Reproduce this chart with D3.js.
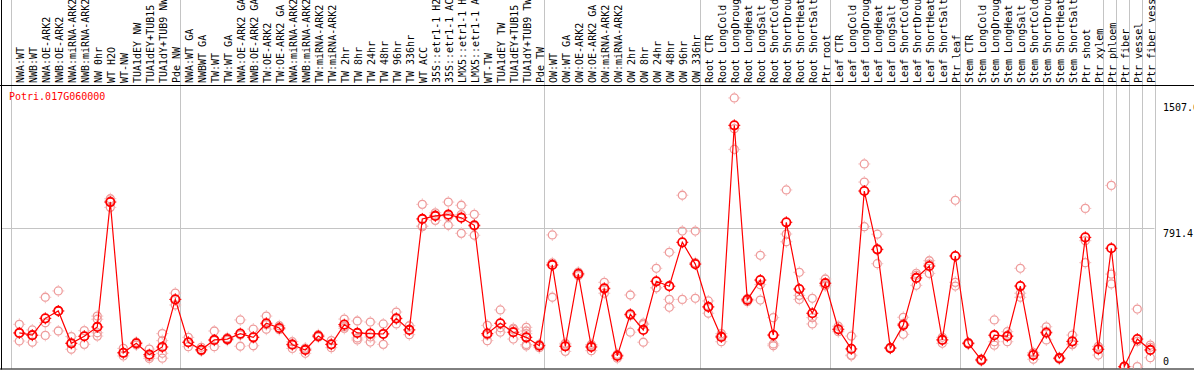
<!DOCTYPE html>
<html>
<head>
<meta charset="utf-8">
<script src="https://cdn.jsdelivr.net/npm/d3@7"></script>
<style>
  body { margin: 0; background: #fff; }
  svg { display: block; }
  text { font-family: "DejaVu Sans Mono", monospace; font-size: 10px; }
</style>
</head>
<body>
<div id="chart"></div>
<script>
const gene = 'Potri.017G060000';

const categories = [
  'NWA:WT', 'NWB:WT', 'NWA:OE-ARK2', 'NWB:OE-ARK2', 'NWA:miRNA-ARK2', 'NWB:miRNA-ARK2', 'NW 0hr', 'WT H2O', 'WT-NW',
  'TUA1dEY NW', 'TUA1dEY+TUB15 NW', 'TUA1dY+TUB9 NW', 'Pde NW',
  'NWA:WT GA', 'NWBWT GA', 'TW:WT', 'TW:WT GA', 'NWA:OE-ARK2 GA', 'NWB:OE-ARK2 GA', 'TW:OE-ARK2', 'TW:OE-ARK2 GA',
  'NWA:miRNA-ARK2 GA', 'NWB:miRNA-ARK2 GA', 'TW:miRNA-ARK2', 'TW:miRNA-ARK2 GA', 'TW 2hr', 'TW 8hr', 'TW 24hr',
  'TW 48hr', 'TW 96hr', 'TW 336hr', 'WT ACC', '35S::etr1-1 H2O', '35S::etr1-1 ACC', 'LMX5::etr1-1 H2O',
  'LMX5::etr1-1 ACC', 'WT-TW', 'TUA1dEY TW', 'TUA1dEY+TUB15 TW', 'TUA1dY+TUB9 TW', 'Pde TW',
  'OW:WT', 'OW:WT GA', 'OW:OE-ARK2', 'OW:OE-ARK2 GA', 'OW:miRNA-ARK2', 'OW:miRNA-ARK2 GA', 'OW 2hr', 'OW 8hr',
  'OW 24hr', 'OW 48hr', 'OW 96hr', 'OW 336hr',
  'Root CTR', 'Root LongCold', 'Root LongDrought', 'Root LongHeat', 'Root LongSalt', 'Root ShortCold',
  'Root ShortDrought', 'Root ShortHeat', 'Root ShortSalt', 'Ptr root',
  'Leaf CTR', 'Leaf LongCold', 'Leaf LongDrought', 'Leaf LongHeat', 'Leaf LongSalt', 'Leaf ShortCold',
  'Leaf ShortDrought', 'Leaf ShortHeat', 'Leaf ShortSalt', 'Ptr leaf',
  'Stem CTR', 'Stem LongCold', 'Stem LongDrought', 'Stem LongHeat', 'Stem LongSalt', 'Stem ShortCold',
  'Stem ShortDrought', 'Stem ShortHeat', 'Stem ShortSalt', 'Ptr shoot', 'Ptr xylem',
  'Ptr phloem', 'Ptr fiber', 'Ptr vessel', 'Ptr fiber vessel'
];

// number of samples in each block between the grey separators
const groupSizes = [13, 28, 12, 10, 10, 11, 1, 1, 1, 1];

const means = [
  194, 181, 277, 319, 135, 175, 228, 939, 81, 135, 70, 114, 385,
  141, 98, 154, 159, 190, 169, 249, 222, 127, 97, 176, 129, 241, 194, 190,
  188, 277, 211, 843, 860, 867, 850, 807, 190, 249, 198, 169, 121,
  581, 118, 530, 114, 448, 63, 300, 211, 488, 460, 710, 586,
  342, 171, 1376, 382, 495, 182, 824, 444, 306, 477,
  215, 103, 1002, 670, 108, 239, 507, 575, 154, 632,
  135, 40, 181, 175, 461, 68, 195, 50, 146, 738, 101,
  676, 2, 159, 97
];

const replicates = [
  [243, 148, 194], [211, 141, 181], [397, 252, 180], [433, 205, 319], [173, 101, 135], [207, 129, 175],
  [290, 272, 195, 176], [958, 909, 945], [106, 63, 80], [141, 125, 138], [102, 59, 49], [190, 150, 78, 50],
  [421, 353, 385],
  [169, 116, 140], [112, 92, 96], [205, 116, 150], [167, 152, 159], [268, 118, 183], [216, 121, 170],
  [290, 215, 241], [235, 218, 213], [144, 106, 131], [78, 105, 107], [184, 170, 176], [150, 110, 128],
  [273, 220, 230], [262, 154, 165], [256, 142, 171], [245, 129, 190], [313, 245, 274], [235, 184, 213],
  [926, 799, 803], [878, 835, 866], [939, 807, 855], [921, 761, 868], [869, 750, 801], [237, 150, 182],
  [325, 198, 224], [220, 159, 214], [226, 205, 190, 128, 120], [110, 125, 129],
  [752, 397, 593], [89, 130, 135], [540, 520, 529], [93, 128, 121], [482, 420, 443], [50, 72, 66],
  [410, 198, 292], [249, 141, 242], [562, 451, 451], [653, 385, 340], [978, 774, 385], [774, 391, 594],
  [376, 306, 343], [144, 190, 178], [1532, 1239, 1357], [372, 390, 382], [636, 469, 381], [281, 131, 121],
  [1008, 757, 713], [539, 385, 408], [391, 245, 281], [501, 462, 466],
  [232, 201, 211], [176, 64, 68], [1156, 1053, 799], [756, 588, 667], [112, 105, 108], [283, 186, 248],
  [533, 465, 522], [605, 533, 587], [169, 135, 157], [949, 482, 461],
  [135, 130, 140], [40, 45, 35], [268, 144, 124], [201, 144, 180], [562, 420, 397], [44, 80, 81],
  [229, 154, 203], [55, 45, 49], [182, 130, 127], [903, 719, 594], [68, 117, 117],
  [1034, 529, 473], [0, 3, 2], [330, 2, 146], [125, 53, 112]
];

const tickValues = [0, 791.4, 1507.6];
const tickLabels = ['0', '791.4', '1507.6'];

const width = 1194;
const height = 370;
const plotTop = 85;
const plotBottom = 368.5;
const labelBottom = 83;

const svg = d3.select('#chart')
  .append('svg')
  .attr('width', width)
  .attr('height', height);

const x = d3.scaleBand()
  .domain(categories)
  .range([10.5, 1154.5]);

// markers sit a little right of the band centre, like the original
const px = (c) => x(c) + 8.8;

const y = d3.scaleLinear()
  .domain([0, 791.4])
  .range([367, 228]);

// grey separators between sample blocks
let starts = [];
let acc = 0;
groupSizes.forEach((n) => { starts.push(acc); acc += n; });
const sepX = starts.map((i) => x(categories[i])).concat([x.range()[1]]);

svg.append('g')
  .selectAll('line')
  .data(sepX)
  .join('line')
  .attr('x1', (d) => Math.round(d) + 0.5)
  .attr('x2', (d) => Math.round(d) + 0.5)
  .attr('y1', 0)
  .attr('y2', plotBottom)
  .attr('stroke', '#c4c4c4')
  .attr('stroke-width', 1);

// horizontal grid at the middle tick
svg.append('line')
  .attr('x1', 1)
  .attr('x2', x.range()[1])
  .attr('y1', Math.round(y(791.4)) + 0.5)
  .attr('y2', Math.round(y(791.4)) + 0.5)
  .attr('stroke', '#c4c4c4');

// frame
svg.append('line')
  .attr('x1', 0).attr('x2', width)
  .attr('y1', plotTop + 0.5).attr('y2', plotTop + 0.5)
  .attr('stroke', '#000');
svg.append('line')
  .attr('x1', 0).attr('x2', width)
  .attr('y1', plotBottom + 0.5).attr('y2', plotBottom + 0.5)
  .attr('stroke', '#000');
svg.append('line')
  .attr('x1', 1.5).attr('x2', 1.5)
  .attr('y1', 0).attr('y2', plotBottom + 1)
  .attr('stroke', '#000');

// sample labels (vertical)
svg.append('g')
  .selectAll('text')
  .data(categories)
  .join('text')
  .attr('transform', (d) => `translate(${x(d) + 13.5}, ${labelBottom}) rotate(-90)`)
  .attr('fill', '#000')
  .text((d) => d);

// right side value labels
svg.append('g')
  .selectAll('text')
  .data(tickValues)
  .join('text')
  .attr('x', 1163)
  .attr('y', (d) => Math.min(y(d) + 8.5, 365))
  .attr('fill', '#000')
  .text((d, i) => tickLabels[i]);

// gene name
svg.append('text')
  .attr('x', 9)
  .attr('y', 100)
  .attr('fill', '#ff0000')
  .text(gene);

const clip = svg.append('defs').append('clipPath').attr('id', 'plot-clip');
clip.append('rect').attr('x', 2).attr('y', plotTop + 1).attr('width', width).attr('height', plotBottom - plotTop - 1);

const plot = svg.append('g').attr('clip-path', 'url(#plot-clip)');

const ticks = 'M0,-6V-4M0,4V6M-6,0H-4M4,0H6';

// replicate points
const reps = [];
replicates.forEach((r, i) => r.forEach((v) => reps.push({ c: categories[i], v })));

const repG = plot.append('g')
  .selectAll('g')
  .data(reps)
  .join('g')
  .attr('transform', (d) => `translate(${px(d.c)}, ${y(d.v)})`);
repG.append('circle')
  .attr('r', 4)
  .attr('fill', 'none')
  .attr('stroke', '#ee9a9a')
  .attr('stroke-width', 1.3);
repG.append('path')
  .attr('d', ticks)
  .attr('stroke', '#f4bcbc')
  .attr('stroke-width', 1);

// mean line
const line = d3.line()
  .x((d, i) => px(categories[i]))
  .y((d) => y(d));

plot.append('path')
  .datum(means)
  .attr('d', line)
  .attr('fill', 'none')
  .attr('stroke', '#ff0000')
  .attr('stroke-width', 1.2);

// mean points
const meanG = plot.append('g')
  .selectAll('g')
  .data(means)
  .join('g')
  .attr('transform', (d, i) => `translate(${px(categories[i])}, ${y(d)})`);
meanG.append('circle')
  .attr('r', 4.2)
  .attr('fill', 'none')
  .attr('stroke', '#ff0000')
  .attr('stroke-width', 1.8);
meanG.append('path')
  .attr('d', ticks)
  .attr('stroke', '#ff0000')
  .attr('stroke-width', 1);
</script>
</body>
</html>
